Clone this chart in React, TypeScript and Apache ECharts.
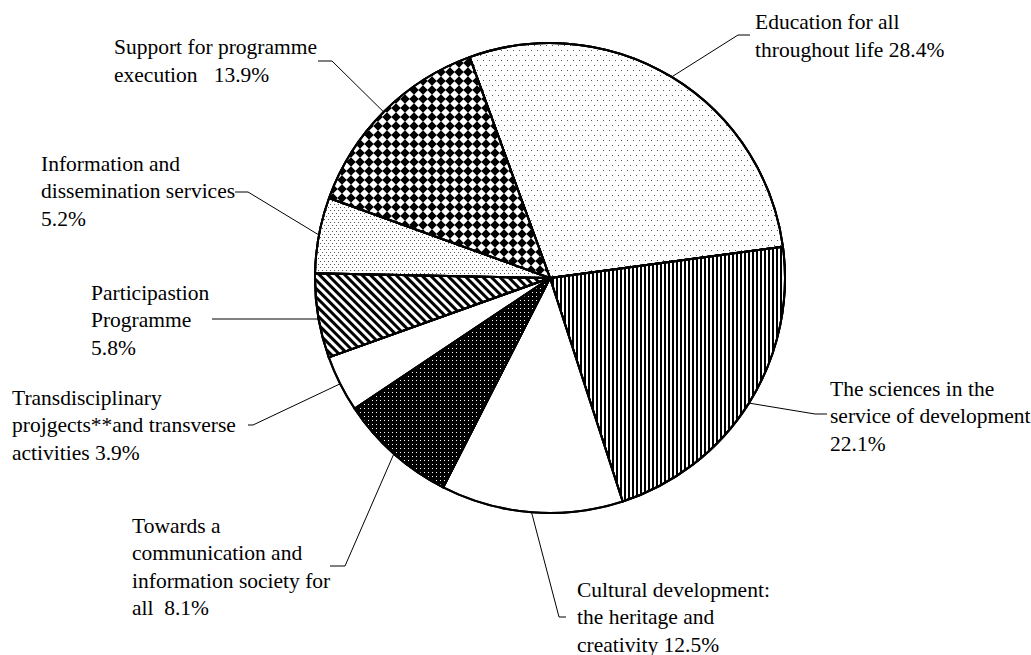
import React, { useEffect, useRef } from "react";
import * as echarts from "echarts";

// ---- data ----
const categories = [
  "Education for all throughout life",
  "The sciences in the service of development",
  "Cultural development: the heritage and creativity",
  "Towards a communication and information society for all",
  "Transdisciplinary projgects**and transverse activities",
  "Participastion Programme",
  "Information and dissemination services",
  "Support for programme execution",
];
const shares = [28.4, 22.1, 12.5, 8.1, 3.9, 5.8, 5.2, 13.9];
// label text, {v} is replaced by the share value
const labelTemplates = [
  "Education for all\nthroughout life {v}%",
  "The sciences in the\nservice of development\n{v}%",
  "Cultural development:\nthe heritage and\ncreativity {v}%",
  "Towards a\ncommunication and\ninformation society for\nall  {v}%",
  "Transdisciplinary\nprojgects**and transverse\nactivities {v}%",
  "Participastion\nProgramme\n{v}%",
  "Information and\ndissemination services\n{v}%",
  "Support for programme\nexecution   {v}%",
];

// ---- layout (label placement, not data) ----
const CX = 550;
const CY = 278;
const R = 235;
const START = 110; // degrees, clockwise
// [textLeftX, textCenterY, elbowX, elbowY, lineEndX, flatLine(1 = leader is horizontal)]
const labelAnchors: number[][] = [
  [755, 36, 738, 35, 750, 0],
  [830, 416, 815, 414, 827, 0],
  [577, 617, 559, 617, 566, 0],
  [132, 567, 345, 566, 330, 0],
  [12, 425, 253, 425, 248, 0],
  [91, 320, 300, 319, 212, 1],
  [41, 191, 248, 192, 235, 0],
  [114, 61, 332, 61, 318, 0],
];

const FONT = "Liberation Serif";

const sliceColors = ["#fff", "#fff", "#fff", "#000", "#fff", "#fff", "#fff", "#000"];
const sliceDecals: any[] = [
  { symbol: "rect", symbolSize: 1, color: "#555", dashArrayX: [[1, 5], [0, 3, 1, 2]], dashArrayY: [1, 4] },
  { symbol: "rect", symbolSize: 1, color: "#000", dashArrayX: [2, 2], dashArrayY: [10, 0] },
  null,
  { symbol: "rect", symbolSize: 1, color: "#fff", dashArrayX: [1, 3], dashArrayY: [1, 3] },
  null,
  { symbol: "rect", symbolSize: 1, color: "#000", dashArrayX: [3, 3], dashArrayY: [10, 0], rotation: -Math.PI / 4 },
  { symbol: "rect", symbolSize: 1, color: "#555", dashArrayX: [[1, 3], [0, 2, 1, 1]], dashArrayY: [1, 2] },
  { symbol: "diamond", symbolSize: 0.95, color: "#fff", dashArrayX: [9, 0], dashArrayY: [9, 0] },
];

function edgePoint(i: number): number[] {
  const total = shares.reduce((a, b) => a + b, 0);
  let cum = 0;
  for (let k = 0; k < i; k++) cum += shares[k];
  const mid = ((START - (360 * (cum + shares[i] / 2)) / total) * Math.PI) / 180;
  return [CX + R * Math.cos(mid), CY - R * Math.sin(mid)];
}

export default function App() {
  const ref = useRef<HTMLDivElement>(null);
  useEffect(() => {
    if (!ref.current) return;
    const chart = echarts.init(ref.current, null, { renderer: "svg" });
    const data = categories.map((name, i) => {
      const item: any = {
        name,
        value: shares[i],
        itemStyle: { color: sliceColors[i] },
      };
      if (sliceDecals[i]) item.itemStyle.decal = sliceDecals[i];
      return item;
    });
    const outline = categories.map((name, i) => ({ name, value: shares[i] }));
    chart.setOption({
      animation: false,
      backgroundColor: "#fff",
      textStyle: { fontFamily: FONT },
      series: [
        {
          type: "pie",
          center: [CX, CY],
          radius: R,
          startAngle: START,
          clockwise: true,
          avoidLabelOverlap: false,
          silent: true,
          data,
          itemStyle: { borderColor: "#000", borderWidth: 2 },
          label: {
            show: true,
            position: "outside",
            formatter: (p: any) => labelTemplates[p.dataIndex].replace("{v}", String(p.value)),
            color: "#000",
            fontFamily: FONT,
            fontSize: 21.5,
            lineHeight: 27.5,
          },
          labelLine: { show: true, lineStyle: { color: "#000", width: 1 } },
          labelLayout: (params: any) => {
            const i = params.dataIndex;
            const a = labelAnchors[i];
            let edge = edgePoint(i);
            if (a[5]) {
              // horizontal leader: meet the rim at the elbow's height
              const dy = a[3] - CY;
              const dx = Math.sqrt(R * R - dy * dy);
              edge = [edge[0] < CX ? CX - dx : CX + dx, a[3]];
            }
            return {
              x: a[0],
              y: a[1],
              align: "left",
              verticalAlign: "middle",
              labelLinePoints: [edge, [a[2], a[3]], [a[4], a[3]]],
            };
          },
        },
        {
          type: "pie",
          center: [CX, CY],
          radius: R,
          startAngle: START,
          clockwise: true,
          silent: true,
          z: 5,
          data: outline,
          itemStyle: { color: "rgba(0,0,0,0)", borderColor: "#000", borderWidth: 2 },
          label: { show: false },
          labelLine: { show: false },
        },
      ],
    });
    return () => chart.dispose();
  }, []);
  return (
    <div
      ref={ref}
      style={{ position: "absolute", left: 0, top: 0, width: 1031, height: 655 }}
    />
  );
}
